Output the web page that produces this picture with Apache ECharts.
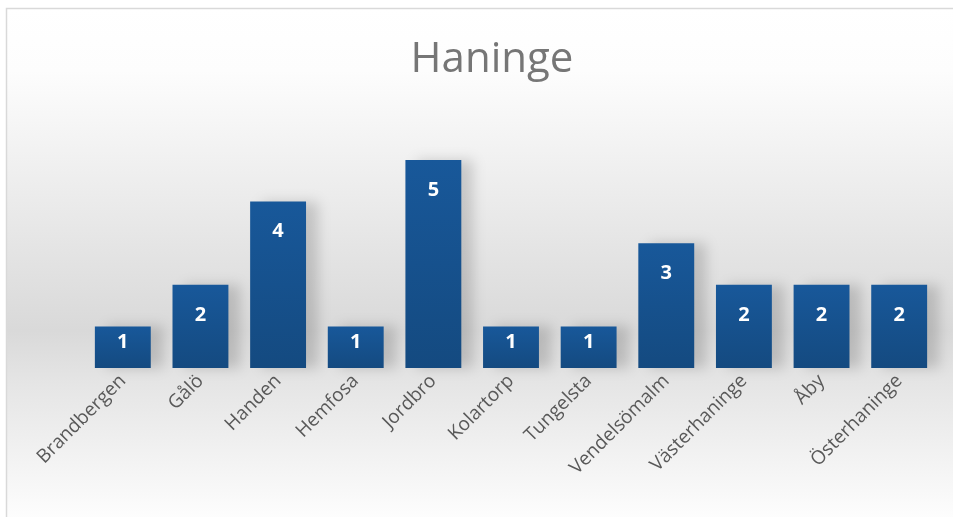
<!DOCTYPE html>
<html>
<head>
<meta charset="utf-8">
<script src="https://cdn.jsdelivr.net/npm/echarts@6/dist/echarts.min.js"></script>
<style>
  html, body { margin: 0; padding: 0; background: #fff; }
  #main { width: 953px; height: 517px; }
</style>
</head>
<body>
<div id="main"></div>
<script>
// Haninge - antal per ort
var categories = ['Brandbergen', 'Gålö', 'Handen', 'Hemfosa', 'Jordbro', 'Kolartorp',
  'Tungelsta', 'Vendelsömalm', 'Västerhaninge', 'Åby', 'Österhaninge']
var values = [1, 2, 4, 1, 5, 1, 1, 3, 2, 2, 2]

var chart = echarts.init(document.getElementById('main'))
chart.setOption({
  animation: false,
  graphic: [
    {
      type: 'rect',
      z: -10,
      silent: true,
      shape: { x: 6.5, y: 8.5, width: 960, height: 520 },
      style: {
        stroke: '#d9d9d9',
        lineWidth: 1.5,
        fill: new echarts.graphic.LinearGradient(0, 0, 0, 1, [
          { offset: 0, color: '#ffffff' },
          { offset: 0.12, color: '#fdfdfd' },
          { offset: 0.62, color: '#d9d9d9' },
          { offset: 0.72, color: '#e5e5e5' },
          { offset: 1, color: '#ffffff' }
        ])
      }
    }
  ],
  title: {
    text: 'Haninge',
    left: 487,
    textAlign: 'center',
    top: 34,
    textStyle: {
      fontFamily: 'Liberation Sans Narrow, Open Sans, sans-serif',
      fontSize: 42,
      fontWeight: 'normal',
      color: '#767676'
    }
  },
  grid: { left: 84, right: 15, top: 118.4, bottom: 149 },
  xAxis: {
    type: 'category',
    data: categories,
    axisLine: { show: false },
    axisTick: { show: false },
    axisLabel: {
      rotate: 45,
      margin: 10,
      interval: 0,
      fontFamily: 'Open Sans',
      fontSize: 19,
      color: '#595959'
    }
  },
  yAxis: {
    type: 'value',
    min: 0,
    max: 6,
    interval: 1,
    show: false,
    splitLine: { show: false }
  },
  series: [
    {
      type: 'bar',
      // kortare staplar får etiketten närmare toppen, som i Excel
      data: values.map(function (v) {
        return { value: v, label: { distance: v < 2 ? 6 : 20 } }
      }),
      barCategoryGap: '28%',
      itemStyle: {
        color: new echarts.graphic.LinearGradient(0, 0, 0, 1, [
          { offset: 0, color: '#18589a' },
          { offset: 1, color: '#144a80' }
        ]),
        shadowColor: 'rgba(0,0,0,0.16)',
        shadowBlur: 12,
        shadowOffsetX: 12,
        shadowOffsetY: 0
      },
      label: {
        show: true,
        position: 'insideTop',
        color: '#ffffff',
        fontFamily: 'Open Sans',
        fontWeight: 'bold',
        fontSize: 20
      }
    }
  ]
})
</script>
</body>
</html>
